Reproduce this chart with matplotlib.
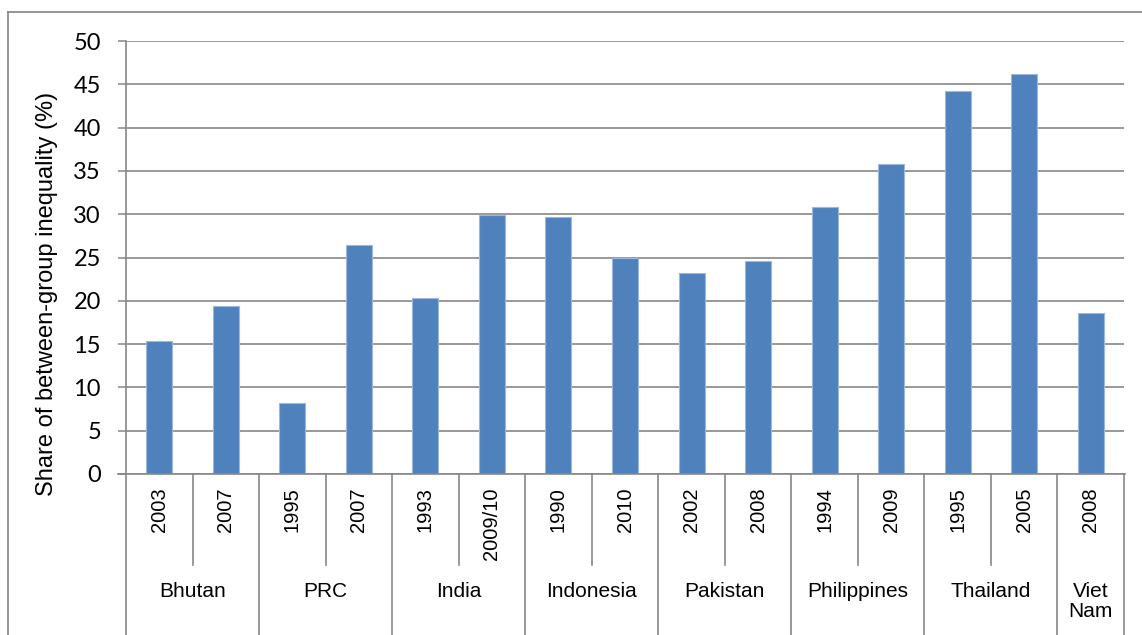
import matplotlib
matplotlib.use("Agg")
import matplotlib.pyplot as plt
import matplotlib.transforms as mtransforms
from matplotlib.lines import Line2D

# Data
countries = ["Bhutan", "PRC", "India", "Indonesia", "Pakistan", "Philippines", "Thailand", "Viet\nNam"]
years = [["2003", "2007"], ["1995", "2007"], ["1993", "2009/10"], ["1990", "2010"],
         ["2002", "2008"], ["1994", "2009"], ["1995", "2005"], ["2008"]]
values = [15.4, 19.4, 8.15, 26.5, 20.3, 29.9, 29.7, 25.0, 23.2, 24.6, 30.8, 35.8, 44.2, 46.2, 18.6]
y_ticks = [0, 5, 10, 15, 20, 25, 30, 35, 40, 45, 50]
y_label = "Share of between-group inequality (%)"

W, H = 1142, 635
fig = plt.figure(figsize=(W / 100, H / 100), dpi=100)

def fx(px):
    return px / W

def fy(py):
    return (H - py) / H

ax_left, ax_right, ax_top, ax_bottom = 126, 1124, 41, 474
ax = fig.add_axes([fx(ax_left), fy(ax_bottom), fx(ax_right) - fx(ax_left), fy(ax_top) - fy(ax_bottom)])

grid_color = "#878787"
bar_color = "#4F81BD"

n = len(values)
xs = list(range(n))
ax.bar(xs, values, width=0.39, color=bar_color, edgecolor="#9DB8DC", linewidth=0.8, zorder=3)

ax.set_xlim(-0.5, n - 0.5)
ax.set_ylim(0, 50)
ax.set_yticks(y_ticks)
ax.set_yticklabels([str(t) for t in y_ticks], fontsize=17, family="Lato")
ax.tick_params(axis="y", length=6, width=1.1, color=grid_color, pad=12)
ax.set_xticks([])
for t in y_ticks:
    ax.axhline(t, color=grid_color, linewidth=1.2, zorder=1)

for s in ["top", "right", "bottom"]:
    ax.spines[s].set_visible(False)
ax.spines["left"].set_color(grid_color)
ax.spines["left"].set_linewidth(1.2)

# Hierarchical category axis
trans = mtransforms.blended_transform_factory(ax.transData, fig.transFigure)
y_axis = fy(ax_bottom)
y_year_end = fy(565)
y_bottom = -0.02

# x axis line
fig.add_artist(Line2D([fx(ax_left) - 8 / W, fx(ax_right) + 1 / W], [y_axis, y_axis],
                      transform=fig.transFigure, color=grid_color, linewidth=1.2))

idx = 0
boundaries = [-0.5]
for ci, (cname, ylist) in enumerate(zip(countries, years)):
    start = idx
    for k, yr in enumerate(ylist):
        ax.text(idx, fy(487), yr, transform=trans, rotation=90, ha="center", va="top",
                fontsize=14.5, family="Liberation Sans", color="black")
        if k > 0:
            fig.add_artist(Line2D([idx - 0.5, idx - 0.5], [y_axis, y_year_end], transform=trans,
                                  color=grid_color, linewidth=1.2))
        idx += 1
    center = (start + idx - 1) / 2
    ax.text(center, fy(582), cname, transform=trans, ha="center", va="top", fontsize=15,
            family="Liberation Sans", linespacing=1.05, color="black")
    boundaries.append(idx - 0.5)

for b in boundaries:
    fig.add_artist(Line2D([b, b], [y_axis, y_bottom], transform=trans,
                          color=grid_color, linewidth=1.2))

# y label
fig.text(fx(47), fy(294), y_label, rotation=90, ha="center", va="center",
         fontsize=17, family="Liberation Sans")

# outer border
fig.add_artist(Line2D([fx(8), 1.01], [fy(12), fy(12)], transform=fig.transFigure,
                      color="#8C8C8C", linewidth=1.3))
fig.add_artist(Line2D([fx(8), fx(8)], [fy(12), -0.01], transform=fig.transFigure,
                      color="#8C8C8C", linewidth=1.3))

fig.savefig("out.png", dpi=100, facecolor="white")
